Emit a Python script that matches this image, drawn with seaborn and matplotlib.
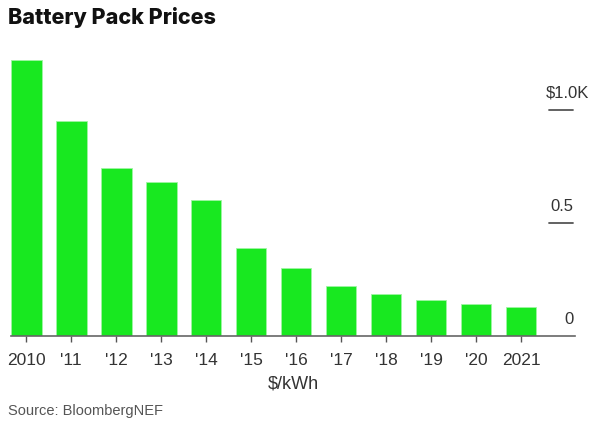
import matplotlib
matplotlib.use("Agg")
import matplotlib.pyplot as plt
import seaborn as sns

years = ["2010", "'11", "'12", "'13", "'14", "'15", "'16", "'17", "'18", "'19", "'20", "2021"]
prices = [1221, 951, 745, 683, 603, 389, 300, 221, 186, 159, 142, 128]
ytick_values = [0, 500, 1000]
ytick_labels = ["0", "0.5", "$1.0K"]

sns.set_theme(style="white")
plt.rcParams["font.family"] = ["Liberation Sans", "DejaVu Sans"]

fig = plt.figure(figsize=(6, 4.28), dpi=100)
ax = fig.add_axes([11 / 600, 92 / 428, 564 / 600, 282.5 / 428])

sns.barplot(x=years, y=prices, color="#18e820", saturation=1, width=0.68,
            edgecolor="#9ff5a3", linewidth=0.6, ax=ax)

ax.set_xlim(-0.34, 12.2)
ax.set_ylim(0, 1250)
for s in ["top", "left", "right"]:
    ax.spines[s].set_visible(False)
ax.spines["bottom"].set_color("#666666")
ax.spines["bottom"].set_linewidth(1.2)
ax.set_yticks([])
ax.tick_params(axis="x", bottom=True, length=4, width=1, color="#555555",
               labelsize=12.5, labelcolor="#333333", pad=8)
ax.set_xlabel("$/kWh", fontsize=13, color="#333333", labelpad=6)
ax.set_ylabel("")

tr = ax.get_yaxis_transform()
for v, lab in zip(ytick_values, ytick_labels):
    if v > 0:
        ax.plot([0.954, 0.996], [v, v], transform=tr, color="#555555", lw=1.3,
                clip_on=False)
    xr = 1.025 if lab.startswith("$") else 0.998
    ax.annotate(lab, xy=(xr, v), xycoords=tr, xytext=(0, 12),
                textcoords="offset points", ha="right", va="center",
                fontsize=12, color="#333333", annotation_clip=False)

fig.text(8 / 600, 1 - 18 / 428, "Battery Pack Prices", fontsize=15.5,
         fontweight="heavy", family=["Inter", "DejaVu Sans"], color="#111111",
         ha="left", va="center")
fig.text(8 / 600, 1 - 411 / 428, "Source: BloombergNEF", fontsize=10.5,
         color="#555555", ha="left", va="center")

fig.savefig("out.png", dpi=100)
